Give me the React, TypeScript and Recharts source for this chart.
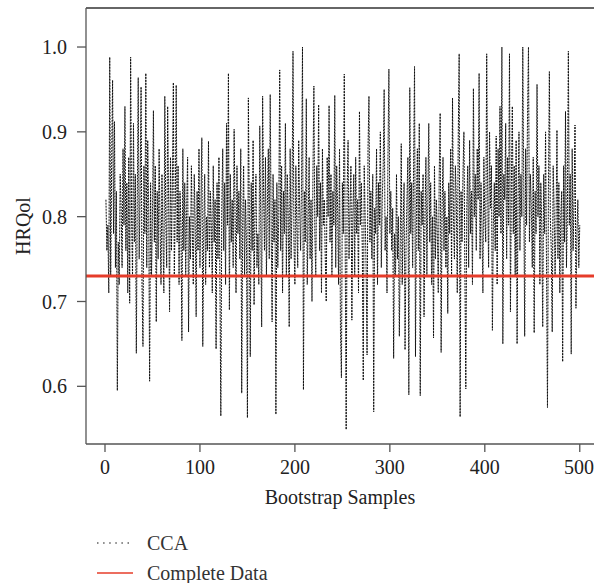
import { LineChart, Line, XAxis, YAxis, ReferenceLine, Legend } from "recharts";

// CCA estimate for each of the 500 bootstrap samples
const ccaValues = [
  0.82, 0.76, 0.79, 0.71, 0.988, 0.73, 0.86, 0.961, 0.78, 0.912, 0.74, 0.83, 0.595, 0.77, 0.72, 0.85, 0.81, 0.74, 0.88, 0.79,
  0.93, 0.76, 0.84, 0.71, 0.87, 0.698, 0.988, 0.8, 0.73, 0.91, 0.77, 0.85, 0.639, 0.82, 0.964, 0.75, 0.83, 0.953, 0.72, 0.647,
  0.86, 0.78, 0.969, 0.74, 0.89, 0.81, 0.606, 0.84, 0.73, 0.8, 0.925, 0.77, 0.86, 0.676, 0.83, 0.75, 0.88, 0.79, 0.72, 0.85,
  0.78, 0.71, 0.942, 0.8, 0.74, 0.93, 0.82, 0.688, 0.87, 0.76, 0.84, 0.958, 0.73, 0.81, 0.955, 0.77, 0.86, 0.72, 0.83, 0.79,
  0.654, 0.88, 0.76, 0.84, 0.73, 0.81, 0.87, 0.664, 0.8, 0.75, 0.86, 0.78, 0.72, 0.85, 0.79, 0.682, 0.83, 0.76, 0.88, 0.74,
  0.81, 0.893, 0.647, 0.78, 0.85, 0.72, 0.8, 0.76, 0.889, 0.74, 0.83, 0.79, 0.71, 0.86, 0.77, 0.82, 0.644, 0.84, 0.75, 0.87,
  0.73, 0.565, 0.81, 0.88, 0.76, 0.84, 0.72, 0.91, 0.79, 0.969, 0.69, 0.85, 0.77, 0.82, 0.74, 0.903, 0.8, 0.71, 0.86, 0.78,
  0.83, 0.75, 0.88, 0.592, 0.79, 0.86, 0.73, 0.82, 0.77, 0.563, 0.94, 0.8, 0.635, 0.84, 0.76, 0.89, 0.696, 0.81, 0.85, 0.74,
  0.78, 0.72, 0.907, 0.8, 0.67, 0.942, 0.83, 0.76, 0.87, 0.73, 0.81, 0.88, 0.75, 0.944, 0.79, 0.676, 0.85, 0.77, 0.82, 0.567,
  0.84, 0.74, 0.8, 0.973, 0.76, 0.86, 0.71, 0.83, 0.78, 0.91, 0.73, 0.85, 0.8, 0.67, 0.88, 0.75, 0.82, 0.995, 0.77, 0.72,
  0.86, 0.79, 0.74, 0.89, 0.81, 0.76, 0.84, 1.0, 0.596, 0.83, 0.77, 0.939, 0.72, 0.8, 0.87, 0.75, 0.82, 0.7, 0.85, 0.954,
  0.78, 0.73, 0.86, 0.8, 0.932, 0.76, 0.84, 0.71, 0.88, 0.79, 0.82, 0.75, 0.7, 0.87, 0.8, 0.931, 0.77, 0.85, 0.73, 0.83,
  0.79, 0.943, 0.74, 0.86, 0.81, 0.72, 0.88, 0.664, 0.61, 0.84, 0.78, 0.968, 0.76, 0.549, 0.83, 0.89, 0.75, 0.81, 0.86, 0.678,
  0.8, 0.85, 0.73, 0.87, 0.78, 0.82, 0.71, 0.924, 0.79, 0.84, 0.76, 0.607, 0.86, 0.8, 0.74, 0.637, 0.88, 0.942, 0.77, 0.83,
  0.75, 0.85, 0.57, 0.81, 0.78, 0.88, 0.72, 0.84, 0.79, 0.9, 0.74, 0.82, 0.86, 0.95, 0.76, 0.8, 0.71, 0.87, 0.974, 0.78,
  0.83, 0.76, 0.81, 0.633, 0.78, 0.73, 0.85, 0.75, 0.8, 0.659, 0.77, 0.886, 0.72, 0.79, 0.84, 0.643, 0.76, 0.82, 0.87, 0.59,
  0.952, 0.78, 0.84, 0.74, 0.86, 0.977, 0.635, 0.81, 0.88, 0.76, 0.91, 0.589, 0.83, 0.79, 0.85, 0.682, 0.8, 0.87, 0.73, 0.82,
  0.91, 0.77, 0.84, 0.72, 0.8, 0.657, 0.86, 0.75, 0.82, 0.78, 0.71, 0.85, 0.922, 0.64, 0.81, 0.87, 0.76, 0.83, 0.74, 0.8,
  0.686, 0.84, 0.78, 0.88, 0.73, 0.94, 0.8, 0.75, 0.86, 0.82, 0.71, 0.89, 0.992, 0.564, 0.83, 0.77, 0.85, 0.9, 0.74, 0.597,
  0.81, 0.86, 0.74, 0.89, 0.78, 0.83, 0.72, 0.951, 0.8, 0.85, 0.76, 0.88, 0.82, 0.969, 0.75, 0.84, 0.79, 0.71, 0.87, 0.8,
  0.77, 0.992, 0.83, 0.74, 0.9, 0.81, 0.86, 0.666, 0.79, 0.84, 0.76, 0.895, 0.72, 0.88, 0.8, 0.93, 0.78, 1.0, 0.65, 0.85,
  0.82, 0.91, 0.75, 0.87, 0.79, 0.992, 0.688, 0.84, 0.93, 0.78, 0.86, 0.73, 0.89, 0.65, 0.82, 0.9, 0.76, 0.85, 0.8, 1.0,
  0.84, 0.659, 0.88, 0.79, 0.92, 1.0, 0.77, 0.85, 0.81, 0.74, 0.87, 0.663, 0.83, 0.78, 0.956, 0.8, 0.86, 0.72, 0.84, 0.79,
  0.67, 0.85, 0.78, 0.9, 0.74, 0.575, 0.83, 0.971, 0.8, 0.76, 0.664, 0.86, 0.81, 0.73, 0.79, 0.902, 0.75, 0.84, 0.71, 0.8,
  0.83, 0.629, 0.86, 0.77, 0.924, 0.74, 0.81, 0.995, 0.79, 0.85, 0.638, 0.88, 0.76, 0.82, 0.908, 0.692, 0.78, 0.82, 0.74, 0.79,
];

// HRQol on the complete data set
const completeDataValue = 0.73;

const xTicks = [0, 100, 200, 300, 400, 500];
const yTicks = [0.6, 0.7, 0.8, 0.9, 1.0];

const chartData = ccaValues.map((cca, i) => ({ sample: i + 1, cca }));

const font = "'Liberation Serif', 'DejaVu Serif', serif";
const tickStyle = { fontFamily: font, fontSize: 20, fill: "#222" };

const XTitle = () => (
  <text x={340} y={504} textAnchor="middle" fontFamily={font} fontSize={20} fill="#222">
    Bootstrap Samples
  </text>
);

const YTitle = () => (
  <text
    x={23}
    y={226}
    transform="rotate(-90 23 226)"
    textAnchor="middle"
    dominantBaseline="central"
    fontFamily={font}
    fontSize={20}
    fill="#222"
  >
    HRQol
  </text>
);

const LegendBox = () => (
  <div style={{ position: "relative", width: 594, height: 64, fontFamily: font, fontSize: 20, color: "#333" }}>
    <svg width={44} height={64} style={{ position: "absolute", left: 94, top: 0 }}>
      <line x1={3} x2={39} y1={24} y2={24} stroke="#111" strokeWidth={1.2} strokeDasharray="1.5 4.6" />
      <line x1={3} x2={39} y1={54} y2={54} stroke="#e63c2a" strokeWidth={1.5} />
    </svg>
    <div style={{ position: "absolute", left: 147, top: 24, transform: "translateY(-50%)", lineHeight: 1 }}>CCA</div>
    <div style={{ position: "absolute", left: 147, top: 54, transform: "translateY(-50%)", lineHeight: 1, whiteSpace: "nowrap" }}>
      Complete Data
    </div>
  </div>
);

export default function App() {
  return (
    <div style={{ position: "absolute", left: 0, top: 0, background: "#fff" }}>
      <LineChart width={594} height={583} data={chartData} margin={{ top: 7, right: 0, left: 0, bottom: 0 }}>
        <XAxis
          dataKey="sample"
          type="number"
          domain={[-20, 515]}
          ticks={xTicks}
          tick={tickStyle}
          tickSize={8}
          tickMargin={8}
          height={75}
          stroke="#555"
          strokeWidth={1.3}
          label={<XTitle />}
        />
        <XAxis
          xAxisId="top"
          orientation="top"
          dataKey="sample"
          type="number"
          domain={[-20, 515]}
          ticks={xTicks}
          tick={false}
          tickLine={false}
          height={1}
          stroke="#333"
          strokeWidth={1.5}
        />
        <YAxis
          type="number"
          domain={[0.532, 1.046]}
          ticks={yTicks}
          tick={tickStyle}
          tickFormatter={(v) => v.toFixed(1)}
          tickSize={9}
          tickMargin={10}
          width={86}
          stroke="#555"
          strokeWidth={1.3}
          label={<YTitle />}
        />
        <Legend verticalAlign="bottom" align="left" height={64} content={<LegendBox />} wrapperStyle={{ left: 0, width: 594 }} />
        <Line
          type="linear"
          dataKey="cca"
          stroke="#111"
          strokeWidth={1}
          strokeDasharray="2 1"
          dot={false}
          activeDot={false}
          isAnimationActive={false}
        />
        <ReferenceLine y={completeDataValue} stroke="#e63c2a" strokeWidth={3} ifOverflow="extendDomain" />
      </LineChart>
    </div>
  );
}
